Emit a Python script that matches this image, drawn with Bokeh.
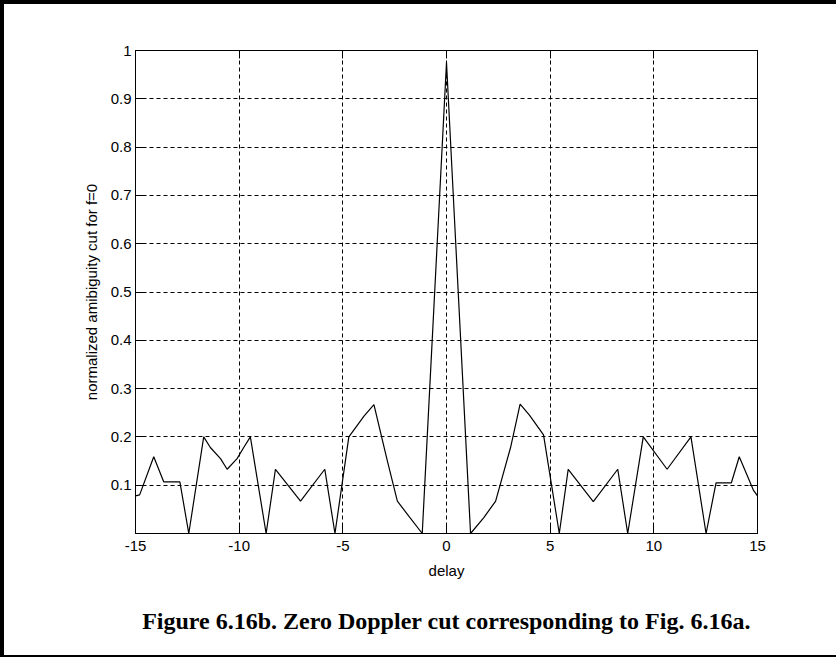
from bokeh.plotting import figure
from bokeh.models import Range1d, FixedTicker, LinearAxis, Title, CustomJSTickFormatter
from bokeh.embed import file_html
from bokeh.resources import INLINE

# ---- data ----
delay = [-15.0, -14.8, -14.12, -13.64, -12.86, -12.43, -11.71, -11.39, -10.9, -10.58,
         -10.1, -9.78, -9.46, -8.70, -8.25, -7.04, -5.87, -5.38, -4.71, -3.98,
         -3.50, -2.85, -2.37, -1.80, -1.17, 0.0, 1.16, 1.80, 2.37, 3.09,
         3.55, 4.0, 4.68, 5.44, 5.87, 7.08, 8.26, 8.74, 9.49, 10.64,
         11.79, 12.52, 13.0, 13.74, 14.12, 14.8, 15.0]
amplitude = [0.078, 0.080, 0.159, 0.107, 0.107, 0.0, 0.200, 0.178, 0.155, 0.133,
             0.155, 0.178, 0.200, 0.0, 0.133, 0.067, 0.133, 0.0, 0.200, 0.243,
             0.267, 0.150, 0.067, 0.035, 0.0, 0.975, 0.0, 0.033, 0.067, 0.178,
             0.268, 0.245, 0.204, 0.0, 0.133, 0.066, 0.133, 0.0, 0.200, 0.133,
             0.200, 0.0, 0.105, 0.105, 0.159, 0.090, 0.078]

x_ticks = [-15, -10, -5, 0, 5, 10, 15]
x_tick_labels = ["-15", "-10", "-5", "0", "5", "10", "15"]
y_ticks = [0.1, 0.2, 0.3, 0.4, 0.5, 0.6, 0.7, 0.8, 0.9, 1.0]
y_tick_labels = ["0.1", "0.2", "0.3", "0.4", "0.5", "0.6", "0.7", "0.8", "0.9", "1"]
x_label = "delay"
y_label = "normalized amibiguity cut for f=0"
caption = "Figure 6.16b. Zero Doppler cut corresponding to Fig. 6.16a."

FONT = "Liberation Sans"
FS = "15px"

p = figure(width=836, height=657, output_backend="svg", toolbar_location=None,
           x_range=Range1d(-15, 15), y_range=Range1d(0, 1),
           min_border_left=131, min_border_right=83, min_border_top=46,
           min_border_bottom=128)
p.styles = {"border-left": "4px solid black", "border-top": "4px solid black",
            "border-bottom": "2px solid black"}
p.background_fill_color = "white"
p.border_fill_color = "white"
p.outline_line_color = "black"
p.outline_line_alpha = 1
p.outline_line_width = 1

p.xaxis.ticker = FixedTicker(ticks=x_ticks)
p.yaxis.ticker = FixedTicker(ticks=y_ticks)
p.xaxis.major_label_overrides = {t: l for t, l in zip(x_ticks, x_tick_labels)}
p.yaxis.major_label_overrides = {t: l for t, l in zip(y_ticks, y_tick_labels)}
p.xaxis.axis_label = x_label
p.yaxis.axis_label = y_label

for ax in (p.xaxis[0], p.yaxis[0]):
    ax.major_tick_in = 8
    ax.major_tick_out = 0
    ax.minor_tick_line_color = None
    ax.axis_line_color = "black"
    ax.major_tick_line_color = "black"
    ax.major_label_text_font = FONT
    ax.major_label_text_font_size = FS
    ax.major_label_text_color = "black"
    ax.axis_label_text_font = FONT
    ax.axis_label_text_font_size = FS
    ax.axis_label_text_font_style = "normal"
    ax.axis_label_text_color = "black"

p.xaxis.major_label_standoff = 7
p.xaxis.axis_label_standoff = 8
p.yaxis.major_label_standoff = 4
p.yaxis.axis_label_standoff = 8

empty = CustomJSTickFormatter(code="return ''")
top = LinearAxis(ticker=FixedTicker(ticks=x_ticks), formatter=empty,
                 major_tick_in=8, major_tick_out=0, minor_tick_line_color=None,
                 axis_line_color="black", major_tick_line_color="black")
right = LinearAxis(ticker=FixedTicker(ticks=y_ticks), formatter=empty,
                   major_tick_in=8, major_tick_out=0, minor_tick_line_color=None,
                   axis_line_color="black", major_tick_line_color="black")
p.add_layout(top, "above")
p.add_layout(right, "right")

p.xgrid.ticker = FixedTicker(ticks=x_ticks)
p.ygrid.ticker = FixedTicker(ticks=y_ticks)
p.grid.grid_line_color = "black"
p.grid.grid_line_alpha = 1
p.grid.grid_line_width = 1
p.grid.grid_line_dash = "4 3"

p.line(delay, amplitude, line_color="black", line_width=1.2)

p.add_layout(Title(text=caption, align="center", standoff=48,
                   text_font="Liberation Serif", text_font_style="bold",
                   text_font_size="24px", text_color="black"), "below")

open("out.html", "w").write(file_html(p, INLINE))
